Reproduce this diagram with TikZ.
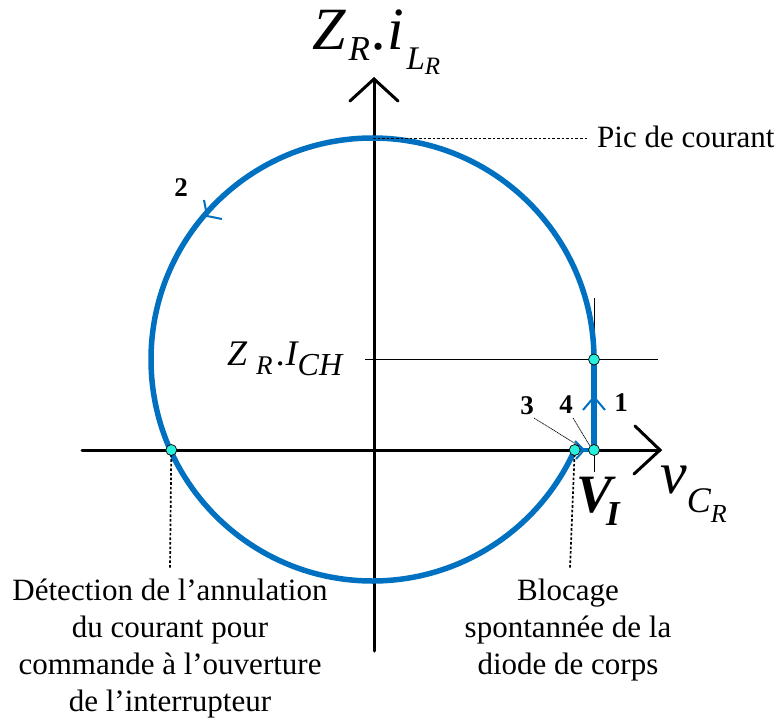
\documentclass[tikz,border=0pt]{standalone}
\usepackage{fontspec}
\setmainfont{Liberation Serif}
\usetikzlibrary{calc}
\definecolor{trajblue}{RGB}{0,112,192}
\definecolor{dotcyan}{RGB}{40,240,220}
\tikzset{
  axisline/.style={line width=3pt, black, line cap=round, line join=miter},
  traj/.style={line width=5.5pt, trajblue},
  chev/.style={line width=2pt, trajblue},
  thinline/.style={line width=0.9pt, black},
  dotline/.style={line width=1.7pt, black, dash pattern=on 2.6pt off 2pt},
  leader/.style={line width=0.7pt, black, dash pattern=on 1.2pt off 0.6pt},
  ptdot/.style={circle, draw=black, line width=0.7pt, fill=dotcyan, minimum size=11pt, inner sep=0pt},
  lab/.style={inner sep=0pt, font=\fontsize{31}{37}\selectfont, align=center},
  num/.style={inner sep=0pt, font=\fontsize{27}{27}\selectfont\bfseries},
}
\begin{document}
\begin{tikzpicture}[x=1pt, y=-1pt]
\useasboundingbox (0,0) rectangle (778,722);
% key points
\coordinate (c) at (373,359.5);
\coordinate (xl) at (82,450);
\coordinate (xr) at (660,450);
\coordinate (yb) at (374,651);
\coordinate (yt) at (374,79);
\coordinate (p1) at (594,450);
\coordinate (p2) at (594,359.5);
\coordinate (p3) at (574.7,450);
\coordinate (p5) at (171.3,450);
\coordinate (top) at (373,138.5);
% thin guide lines
\draw[thinline] (594,298) -- (594,472);
\draw[thinline] (365,359.5) -- (658,359.5);
% axes
\draw[axisline] (xl) -- (xr);
\draw[axisline] (yb) -- (yt);
\draw[axisline] (635,426) -- (xr) -- (634,474);
\draw[axisline] (350,101) -- (yt) -- (398,101);
% trajectory
\draw[traj] (p2) arc[start angle=0, end angle=-335.8, radius=221.5];
\draw[traj] (p1) -- (p2);
\draw[line width=3.5pt, trajblue] (p3) -- (p1);
% direction chevrons
\draw[chev] (583,410) -- (594,397) -- (605,410);
\draw[chev] (204,200) -- (207,216) -- (222,219);
\draw[chev] (575,441) -- (584,450) -- (576,459);
% dotted leaders
\draw[dotline] (top) -- (588,138.5);
\draw[dotline] (p5) -- (170,569);
\draw[dotline] (p3) -- (570,568);
% points
\node[ptdot] (d1) at (p1) {};
\node[ptdot] (d2) at (p2) {};
\node[ptdot] (d3) at (p3) {};
\node[ptdot] (d5) at (p5) {};
% number labels
\node[num] (n1) at (621,403) {1};
\node[num] (n2) at (181,188) {2};
\node[num] (n3) at (527,406) {3};
\node[num] (n4) at (566,405) {4};
\draw[leader] (534,418) -- (d3.north east);
\draw[leader] (573,418) -- (d1.north west);
% axis labels
\node[inner sep=0pt, anchor=base west] (ylab) at (312,50)
  {\fontsize{60}{60}\selectfont\itshape Z\kern3pt\raisebox{-11pt}{\fontsize{35}{35}\selectfont R}\kern3pt.i\kern2pt\raisebox{-20pt}{\fontsize{33}{33}\selectfont L\raisebox{-5pt}{\fontsize{25}{25}\selectfont R}}};
\node[inner sep=0pt, anchor=base west] (xlab) at (660,493)
  {\fontsize{60}{60}\selectfont\itshape v\raisebox{-19pt}{\fontsize{36}{36}\selectfont C\raisebox{-10pt}{\fontsize{26}{26}\selectfont R}}};
\node[inner sep=0pt, anchor=base west] (vi) at (576,512)
  {\fontsize{54}{54}\selectfont\bfseries\itshape V\kern-6pt\raisebox{-13pt}{\fontsize{35}{35}\selectfont I}};
\node[inner sep=0pt, anchor=base west] (ich) at (227,365)
  {\fontsize{36}{36}\selectfont\itshape Z\kern9pt\raisebox{-9pt}{\fontsize{27}{27}\selectfont R}\kern4pt.I\raisebox{-10pt}{\fontsize{32}{32}\selectfont CH}};
% text labels
\node[inner sep=0pt, anchor=base west, font=\fontsize{31}{37}\selectfont] (pic) at (597,148) {Pic de courant};
\node[lab, anchor=north] (det) at (170,579) {Détection de l’annulation\\du courant pour\\commande à l’ouverture\\de l’interrupteur};
\node[lab, anchor=north] (blo) at (568,579) {Blocage\\spontannée de la\\diode de corps};
\end{tikzpicture}
\end{document}
